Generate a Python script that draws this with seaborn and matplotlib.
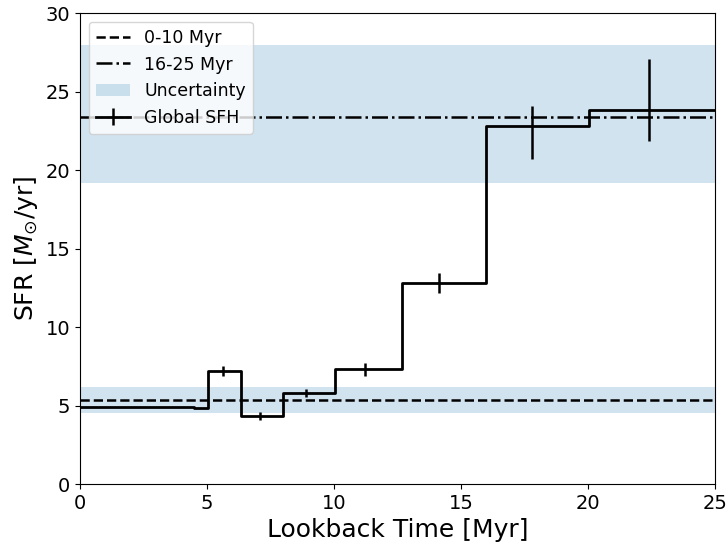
import numpy as np
import pandas as pd
import matplotlib
matplotlib.use("Agg")
import matplotlib.pyplot as plt
import seaborn as sns

# ---------------------------------------------------
# Data

# bin edges of the SFH [Myr], log-spaced from 10^6.7 yr
bin_edges = [0.0, 4.47, 5.05, 6.35, 7.98, 10.04, 12.68, 15.98, 20.05, 25.12]
bin_sfr = [4.89, 4.84, 7.2, 4.35, 5.8, 7.3, 12.8, 22.8, 23.85]

# error bar positions (log bin centres) and errors
err_time = [5.62, 7.08, 8.91, 11.22, 14.13, 17.78, 22.39]
err_sfr = [7.2, 4.35, 5.8, 7.3, 12.8, 22.8, 23.85]
err_low = [0.3, 0.25, 0.25, 0.4, 0.65, 2.1, 2.0]
err_high = [0.3, 0.25, 0.25, 0.4, 0.65, 1.3, 3.2]

# average SFR in two windows and their uncertainty bands
sfr_0_10 = 5.35
band_0_10 = [4.5, 6.2]
sfr_16_25 = 23.4
band_16_25 = [19.2, 28.0]


# ---------------------------------------------------

step_df = pd.DataFrame({
    "time": bin_edges,
    "sfr": bin_sfr + [bin_sfr[-1]],
})

fig, ax = plt.subplots(figsize=(7.28, 5.5), dpi=100)

ax.axhspan(band_0_10[0], band_0_10[1], color="tab:blue", alpha=0.2,
           lw=0, label="Uncertainty")
ax.axhspan(band_16_25[0], band_16_25[1], color="tab:blue", alpha=0.2, lw=0)

l1 = ax.axhline(sfr_0_10, color="k", ls="--", lw=1.8, label="0-10 Myr")
l2 = ax.axhline(sfr_16_25, color="k", ls="-.", lw=1.8, label="16-25 Myr")

sns.lineplot(data=step_df, x="time", y="sfr", drawstyle="steps-post",
             color="k", lw=2, ax=ax, sort=False)
step_line = ax.lines[-1]

err = ax.errorbar(err_time, err_sfr, yerr=[err_low, err_high],
                  fmt="none", ecolor="k", elinewidth=1.8, capsize=0)

band_patch = ax.patches[0]

ax.legend([l1, l2, band_patch, (step_line, err)],
          ["0-10 Myr", "16-25 Myr", "Uncertainty", "Global SFH"],
          loc="upper left", fontsize=12.5)

ax.set_xlim(0, 25)
ax.set_ylim(0, 30)
ax.set_xlabel("Lookback Time [Myr]", fontsize=18)
ax.set_ylabel(r"SFR [$M_{\odot}$/yr]", fontsize=18)
ax.tick_params(labelsize=14)

fig.subplots_adjust(left=0.11, right=0.982, top=0.976, bottom=0.12)

plt.savefig("out.png", dpi=100)
